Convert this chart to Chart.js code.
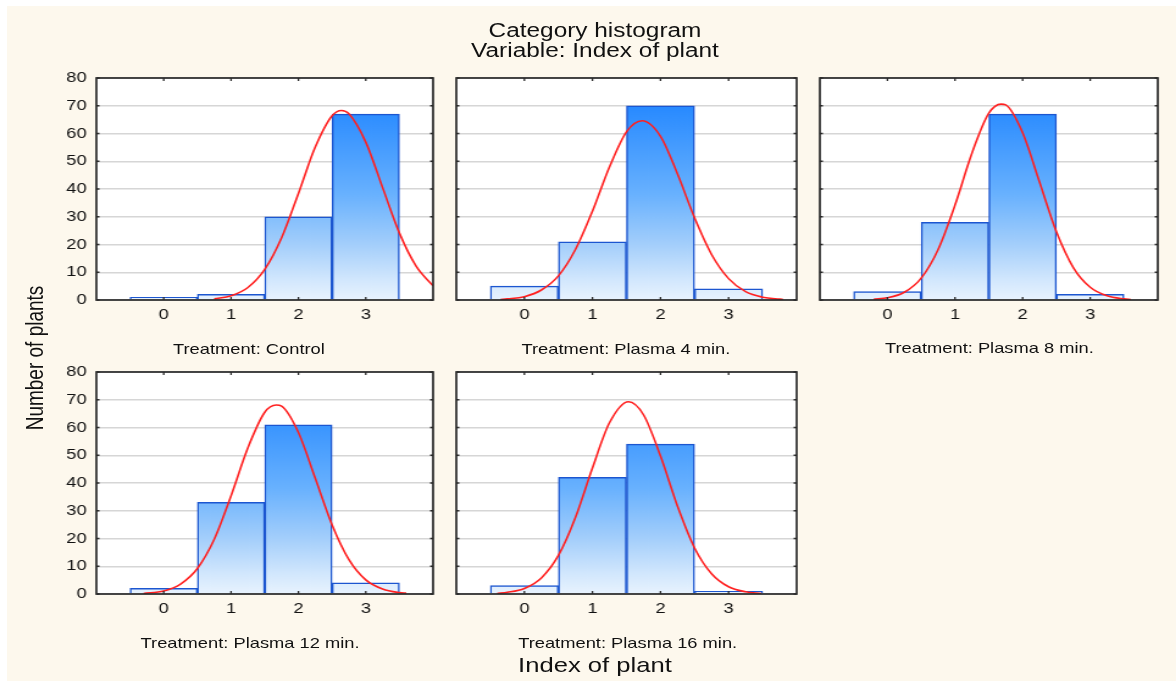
<!DOCTYPE html>
<html><head><meta charset="utf-8">
<script src="https://cdn.jsdelivr.net/npm/chart.js@4.4.1/dist/chart.umd.min.js"></script>
<style>
html,body{margin:0;padding:0;background:#fff;width:1176px;height:682px;overflow:hidden;}
#bg{position:absolute;left:7px;top:6px;width:1169px;height:675px;background:#fdf8ed;}
#wrap{position:absolute;left:0;top:0;width:964px;height:682px;transform:scaleX(1.22);transform-origin:0 0;font-family:"Liberation Sans",Arial,sans-serif;color:#111;}
.t{position:absolute;text-align:center;white-space:nowrap;}
canvas{position:absolute;}
</style></head><body>
<div id="bg"></div>
<div id="wrap">
  <div class="t" style="left:287.7px;width:400px;top:20px;font-size:20px;line-height:20px;">Category histogram<br>Variable: Index of plant</div>
  <div class="t" style="left:287.7px;width:400px;top:653px;font-size:21px;line-height:24px;">Index of plant</div>
  <div class="t" style="left:28.5px;top:358px;width:220px;font-size:19px;line-height:22px;transform:translate(-50%,-50%) rotate(-90deg);">Number of plants</div>
</div>
<script>
// ---- data ----
const INDEX_TICKS = [0, 1, 2, 3];
const BIN_CENTERS = [0, 1, 2, 3];
const TREATMENTS = ['Treatment: Control', 'Treatment: Plasma 4 min.', 'Treatment: Plasma 8 min.', 'Treatment: Plasma 12 min.', 'Treatment: Plasma 16 min.'];

const COUNT_CONTROL  = [1, 2, 30, 67];
const COUNT_PLASMA4  = [5, 21, 70, 4];
const COUNT_PLASMA8  = [3, 28, 67, 2];
const COUNT_PLASMA12 = [2, 33, 61, 4];
const COUNT_PLASMA16 = [3, 42, 54, 1];

// fitted normal curves
const CURVE_X_CONTROL  = [0.75, 1, 1.25, 1.5, 1.75, 2, 2.25, 2.5, 2.64, 2.75, 3, 3.25, 3.5, 3.75, 4];
const CURVE_Y_CONTROL  = [0.4, 1.5, 4.5, 11.0, 22.4, 38.4, 55.1, 66.4, 68.3, 67.1, 56.9, 40.5, 24.1, 12.1, 5.1];
const CURVE_X_PLASMA4  = [-0.35, -0.25, 0, 0.25, 0.5, 0.75, 1, 1.25, 1.5, 1.73, 2, 2.25, 2.5, 2.75, 3, 3.25, 3.5, 3.75, 3.8];
const CURVE_Y_PLASMA4  = [0.2, 0.4, 1.2, 3.6, 8.7, 18.2, 32.0, 47.9, 60.6, 64.6, 59.0, 45.4, 29.6, 16.4, 7.7, 3.0, 1.0, 0.3, 0.2];
const CURVE_X_PLASMA8  = [-0.2, 0, 0.25, 0.5, 0.75, 1, 1.25, 1.5, 1.68, 1.75, 2, 2.25, 2.5, 2.75, 3, 3.25, 3.5, 3.6];
const CURVE_Y_PLASMA8  = [0.3, 0.8, 2.8, 7.9, 18.2, 34.2, 52.9, 67.3, 70.6, 70.3, 60.3, 42.5, 24.6, 11.7, 4.6, 1.5, 0.4, 0.2];
const CURVE_X_PLASMA12 = [-0.3, 0, 0.25, 0.5, 0.75, 1, 1.25, 1.5, 1.67, 1.75, 2, 2.25, 2.5, 2.75, 3, 3.25, 3.5, 3.6];
const CURVE_Y_PLASMA12 = [0.2, 1.1, 3.6, 9.2, 19.7, 35.4, 52.7, 65.5, 68.1, 67.7, 58.2, 41.7, 24.9, 12.4, 5.1, 1.8, 0.5, 0.3];
const CURVE_X_PLASMA16 = [-0.4, -0.25, 0, 0.25, 0.5, 0.75, 1, 1.25, 1.53, 1.75, 2, 2.25, 2.5, 2.75, 3, 3.25, 3.48];
const CURVE_Y_PLASMA16 = [0.2, 0.6, 2.0, 5.8, 13.9, 27.6, 45.4, 61.7, 69.3, 64.6, 49.7, 31.6, 16.6, 7.3, 2.6, 0.8, 0.2];

const X_MIN = -1, X_MAX = 4, Y_MIN = 0, Y_MAX = 80, Y_STEP = 10;

// ---- layout (unscaled units) ----
const PANELS = [
  {counts: COUNT_CONTROL,  cx: CURVE_X_CONTROL,  cy: CURVE_Y_CONTROL,  title: TREATMENTS[0], L: 79,  T: 78,  W: 276, H: 222, labels: true,  tx: 204,   ty: 340},
  {counts: COUNT_PLASMA4,  cx: CURVE_X_PLASMA4,  cy: CURVE_Y_PLASMA4,  title: TREATMENTS[1], L: 374, T: 78,  W: 279, H: 222, labels: false, tx: 513,   ty: 340},
  {counts: COUNT_PLASMA8,  cx: CURVE_X_PLASMA8,  cy: CURVE_Y_PLASMA8,  title: TREATMENTS[2], L: 672, T: 78,  W: 277, H: 222, labels: false, tx: 811,   ty: 339},
  {counts: COUNT_PLASMA12, cx: CURVE_X_PLASMA12, cy: CURVE_Y_PLASMA12, title: TREATMENTS[3], L: 79,  T: 372, W: 276, H: 222, labels: true,  tx: 205,   ty: 634},
  {counts: COUNT_PLASMA16, cx: CURVE_X_PLASMA16, cy: CURVE_Y_PLASMA16, title: TREATMENTS[4], L: 374, T: 372, W: 279, H: 222, labels: false, tx: 514.5, ty: 634}
];

Chart.defaults.font.family = '"Liberation Sans", Arial, sans-serif';
Chart.defaults.font.size = 15;
Chart.defaults.color = '#111';

const framePlugin = {
  id: 'frame',
  beforeDraw(chart) {
    const {ctx, chartArea: a} = chart;
    ctx.save();
    ctx.fillStyle = '#ffffff';
    ctx.fillRect(a.left, a.top, a.right - a.left, a.bottom - a.top);
    ctx.restore();
  },
  afterDraw(chart) {
    const {ctx, chartArea: a} = chart;
    const x = chart.scales.x, y = chart.scales.y;
    ctx.save();
    ctx.strokeStyle = '#2a2a2a';
    ctx.lineWidth = 1.3;
    ctx.beginPath();
    INDEX_TICKS.forEach(v => {
      const px = x.getPixelForValue(v);
      ctx.moveTo(px, a.top); ctx.lineTo(px, a.top + 3);
      ctx.moveTo(px, a.bottom); ctx.lineTo(px, a.bottom - 3);
    });
    y.ticks.forEach(t => {
      const py = y.getPixelForValue(t.value);
      ctx.moveTo(a.left, py); ctx.lineTo(a.left + 2.5, py);
      ctx.moveTo(a.right, py); ctx.lineTo(a.right - 2.5, py);
    });
    ctx.stroke();
    ctx.lineWidth = 1.7;
    ctx.strokeRect(a.left, a.top, a.right - a.left, a.bottom - a.top);
    ctx.restore();
  }
};

function barGradient(context) {
  const chart = context.chart;
  const a = chart.chartArea;
  if (!a) return '#8cc3fb';
  const y = chart.scales.y;
  const g = chart.ctx.createLinearGradient(0, y.getPixelForValue(0), 0, y.getPixelForValue(72));
  g.addColorStop(0, '#e8f3fe');
  g.addColorStop(0.1, '#d2e7fd');
  g.addColorStop(0.28, '#a3cefb');
  g.addColorStop(0.53, '#68b1fe');
  g.addColorStop(1, '#2387ff');
  return g;
}

const wrap = document.getElementById('wrap');
PANELS.forEach(p => {
  const cv = document.createElement('canvas');
  cv.width = p.W + 60; cv.height = p.H + 40;
  cv.style.left = (p.L - 50) + 'px';
  cv.style.top = (p.T - 10) + 'px';
  cv.style.width = cv.width + 'px';
  cv.style.height = cv.height + 'px';
  wrap.appendChild(cv);

  const t = document.createElement('div');
  t.className = 't';
  t.style.cssText = 'left:' + (p.tx - 200) + 'px;width:400px;top:' + p.ty + 'px;font-size:15px;line-height:18px;';
  t.textContent = p.title;
  wrap.appendChild(t);

  new Chart(cv, {
    type: 'bar',
    data: {
      datasets: [
        {
          type: 'line',
          data: p.cx.map((xv, k) => ({x: xv, y: p.cy[k]})),
          borderColor: '#ff2020', borderWidth: 1.6, pointRadius: 0, fill: false,
          cubicInterpolationMode: 'monotone', order: 0
        },
        {
          type: 'bar',
          data: BIN_CENTERS.map((xv, k) => ({x: xv, y: p.counts[k]})),
          backgroundColor: barGradient, borderColor: '#1c56d0', borderWidth: 1.5,
          barPercentage: 1, categoryPercentage: 1, order: 1
        }
      ]
    },
    options: {
      responsive: false, animation: false, devicePixelRatio: 1,
      layout: {padding: {left: 0, top: 10, right: 10, bottom: 0}},
      plugins: {legend: {display: false}, tooltip: {enabled: false}, title: {display: false}},
      scales: {
        x: {
          type: 'linear', min: X_MIN, max: X_MAX, offset: false,
          grid: {display: false, offset: false, drawTicks: false},
          border: {display: false},
          afterBuildTicks: s => { s.ticks = INDEX_TICKS.map(v => ({value: v})); },
          ticks: {padding: 6, autoSkip: false, maxRotation: 0, callback: v => String(v)},
          afterFit: s => { s.height = 30; s.paddingLeft = 0; s.paddingRight = 0; }
        },
        y: {
          type: 'linear', min: Y_MIN, max: Y_MAX,
          grid: {color: '#d6d6d6', lineWidth: 1.5, drawTicks: false},
          border: {display: false},
          ticks: {display: p.labels, stepSize: Y_STEP, padding: 8},
          afterFit: s => { s.width = 50; s.paddingTop = 0; s.paddingBottom = 0; }
        }
      }
    },
    plugins: [framePlugin]
  });
});
</script>
</body></html>
